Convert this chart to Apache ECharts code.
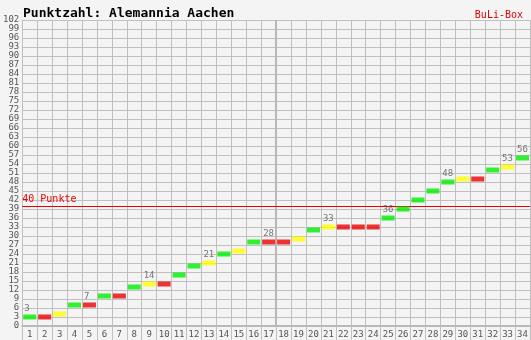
<!DOCTYPE html>
<html><head><meta charset="utf-8">
<script src="https://cdn.jsdelivr.net/npm/echarts@6/dist/echarts.min.js"></script>
<style>html,body{margin:0;padding:0;background:#f4f4f4}#c{width:531px;height:340px}</style>
</head><body><div id="c"></div>
<script>
const matchdays = ['1','2','3','4','5','6','7','8','9','10','11','12','13','14','15','16','17','18','19','20','21','22','23','24','25','26','27','28','29','30','31','32','33','34'];
const points = [3,3,4,7,7,10,10,13,14,14,17,20,21,24,25,28,28,28,29,32,33,33,33,33,36,39,42,45,48,49,49,52,53,56];
// S = win (green), U = draw (yellow), N = loss (red)
const results = ['S','N','U','S','N','S','N','S','U','N','S','S','U','S','U','S','N','N','U','S','U','N','N','N','S','S','S','S','S','U','N','S','U','S'];
const labelled = [1,5,9,13,17,21,25,29,33,34];
const yMax = 102, yStep = 3, target = 40, halfSeason = 17;
const colors = {S:'#00ee00', U:'#ffff00', N:'#ee0000'};
const mono = 'DejaVu Sans Mono';

const data = points.map((p,i)=>({
  value: p,
  itemStyle:{color: colors[results[i]]},
  label:{show: labelled.includes(i+1)}
}));

const chart = echarts.init(document.getElementById('c'));
chart.setOption({
  animation:false,
  backgroundColor:'#f4f4f4',
  title:[
    {text:'Punktzahl: Alemannia Aachen', left:18, top:2, textStyle:{fontFamily:mono, fontSize:13, fontWeight:'bold', color:'#000'}},
    {text:'BuLi-Box', right:3, top:5, textStyle:{fontFamily:mono, fontSize:10, fontWeight:'normal', color:'#dd0000'}}
  ],
  grid:{left:20, right:1, top:20, bottom:14},
  xAxis:[{
    type:'category', data:matchdays, boundaryGap:true,
    axisLine:{show:true, lineStyle:{color:'#b8b8b8', width:2}},
    axisTick:{show:true, interval:0, length:14, lineStyle:{color:'#c0c0c0'}},
    axisLabel:{interval:0, margin:4, fontFamily:mono, fontSize:9, color:'#555'},
    splitLine:{show:true, interval:0, lineStyle:{color:'#c0c0c0'}}
  },{
    type:'value', min:0, max:matchdays.length, show:false
  }],
  yAxis:{
    type:'value', min:0, max:yMax, interval:yStep,
    axisLine:{show:true, lineStyle:{color:'#c0c0c0'}},
    axisTick:{show:false},
    axisLabel:{margin:3, fontFamily:mono, fontSize:9, color:'#555'},
    splitLine:{show:true, lineStyle:{color:'#c0c0c0'}}
  },
  series:[{
    type:'line', xAxisIndex:1, data:[[halfSeason,0]], symbol:'none', showSymbol:false, lineStyle:{opacity:0}, silent:true,
    markLine:{silent:true, symbol:'none', label:{show:false}, lineStyle:{color:'#b8b8b8', width:2, type:'solid'}, data:[{xAxis:halfSeason}]}
  },{
    type:'scatter', data:data, symbol:'rect', symbolSize:[13,5], z:5,
    label:{position:[1,-10], align:'left', verticalAlign:'top', fontFamily:mono, fontSize:9, color:'#555', formatter:p=>p.value},
    markLine:{silent:true, symbol:'none',
      lineStyle:{color:'#ee0000', width:1, type:'solid'},
      label:{show:true, position:'insideStartTop', distance:[0,2], formatter:target+' Punkte', fontFamily:mono, fontSize:10, color:'#ee0000'},
      data:[{yAxis:target}]}
  }]
});
</script></body></html>
